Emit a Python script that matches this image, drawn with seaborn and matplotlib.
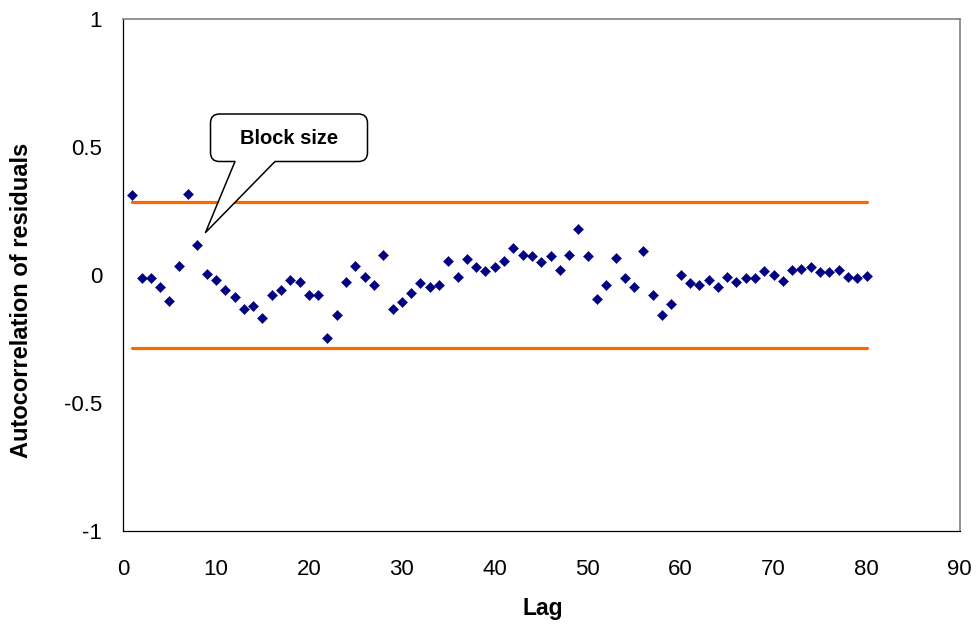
import matplotlib
matplotlib.use("Agg")
import matplotlib.pyplot as plt
import matplotlib.transforms as mtransforms
from matplotlib.patches import FancyBboxPatch, Polygon
from matplotlib.lines import Line2D
import seaborn as sns
import pandas as pd

# ---- data ----
lags = list(range(1, 81))
acf = [
    0.311, -0.013, -0.013, -0.046, -0.101, 0.036, 0.318, 0.118, 0.004, -0.020,
    -0.058, -0.084, -0.131, -0.120, -0.169, -0.077, -0.058, -0.020, -0.026, -0.077,
    -0.077, -0.245, -0.157, -0.026, 0.035, -0.008, -0.039, 0.080, -0.131, -0.107,
    -0.071, -0.033, -0.046, -0.039, 0.056, -0.007, 0.061, 0.030, 0.017, 0.030,
    0.056, 0.104, 0.080, 0.073, 0.049, 0.073, 0.020, 0.080, 0.179, 0.073,
    -0.094, -0.039, 0.067, -0.013, -0.046, 0.093, -0.077, -0.157, -0.114, 0.000,
    -0.033, -0.039, -0.020, -0.046, -0.009, -0.026, -0.013, -0.013, 0.017, -0.001,
    -0.022, 0.020, 0.025, 0.030, 0.012, 0.012, 0.020, -0.008, -0.013, -0.003,
]
bound_x = [1, 80]
upper_bound = [0.2857, 0.2857]
lower_bound = [-0.2857, -0.2857]
x_ticks = [0, 10, 20, 30, 40, 50, 60, 70, 80, 90]
y_ticks = [-1, -0.5, 0, 0.5, 1]
y_tick_labels = ["-1", "-0.5", "0", "0.5", "1"]
callout_text = "Block size"
x_label = "Lag"
y_label = "Autocorrelation of residuals"

sns.set_style("white")
plt.rcParams["font.family"] = ["Liberation Sans", "DejaVu Sans"]
plt.rcParams["text.color"] = "black"
plt.rcParams["axes.labelcolor"] = "black"

W, H = 979, 630
fig = plt.figure(figsize=(W / 100, H / 100), dpi=100)
ax = fig.add_axes([123 / W, (H - 531) / H, (959.5 - 123) / W, (531 - 19) / H])

df = pd.DataFrame({"lag": lags, "acf": acf})
bounds = pd.DataFrame({"x": bound_x + bound_x,
                       "y": upper_bound + lower_bound,
                       "which": ["upper", "upper", "lower", "lower"]})

sns.lineplot(data=bounds, x="x", y="y", units="which", estimator=None,
             color="#FF6600", linewidth=2.3, ax=ax, zorder=2)
sns.scatterplot(data=df, x="lag", y="acf", marker="D", s=27,
                color="#000080", edgecolor="#000080", linewidth=0.3,
                ax=ax, zorder=3)

ax.set_xlim(0, 90)
ax.set_ylim(-1, 1)
ax.set_xticks(x_ticks)
ax.set_xticklabels([str(t) for t in x_ticks])
ax.set_yticks(y_ticks)
ax.set_yticklabels(y_tick_labels)
ax.tick_params(axis="both", direction="in", length=5.5, width=0.8,
               color="black", labelsize=16, labelcolor="black")
ax.tick_params(axis="y", pad=15)
ax.tick_params(axis="x", pad=20)
ax.set_xlabel(x_label, fontsize=16.5, fontweight="bold", color="black", va="center")
ax.set_ylabel(y_label, fontsize=17, fontweight="bold", color="black", va="center")
ax.xaxis.set_label_coords((543 - 123) / 836.5, (531 - 608) / 512)
ax.yaxis.set_label_coords((22 - 123) / 836.5, (531 - 300) / 512)

for side in ["left", "bottom"]:
    ax.spines[side].set_color("black")
    ax.spines[side].set_linewidth(0.9)
for side in ["top", "right"]:
    ax.spines[side].set_color("#808080")
    ax.spines[side].set_linewidth(1.2)
ax.grid(False)

# ---- callout (figure pixel coordinates, top-left origin) ----
px = mtransforms.Affine2D().scale(0.01, -0.01).translate(0, H / 100) + fig.dpi_scale_trans
bx0, by0, bx1, by1 = 210.5, 114, 367.5, 161.5
box = FancyBboxPatch((bx0, by0), bx1 - bx0, by1 - by0,
                     boxstyle="round,pad=0,rounding_size=9",
                     transform=px, facecolor="white", edgecolor="black",
                     linewidth=1.1, zorder=5)
fig.add_artist(box)
base_l, base_r, tip = (235, by1), (275, by1), (205.5, 232.5)
wedge = Polygon([(base_l[0], by1 - 3), (base_r[0], by1 - 3), base_r, tip, base_l],
                closed=True, transform=px, facecolor="white", edgecolor="none",
                zorder=6)
fig.add_artist(wedge)
fig.add_artist(Line2D([base_l[0], tip[0], base_r[0]], [base_l[1], tip[1], base_r[1]],
                      transform=px, color="black", linewidth=1.1, zorder=7))
fig.text(289 / W, 1 - 138 / H, callout_text, fontsize=14.5, fontweight="bold",
         ha="center", va="center", color="black", zorder=8)

fig.savefig("out.png", dpi=100)
